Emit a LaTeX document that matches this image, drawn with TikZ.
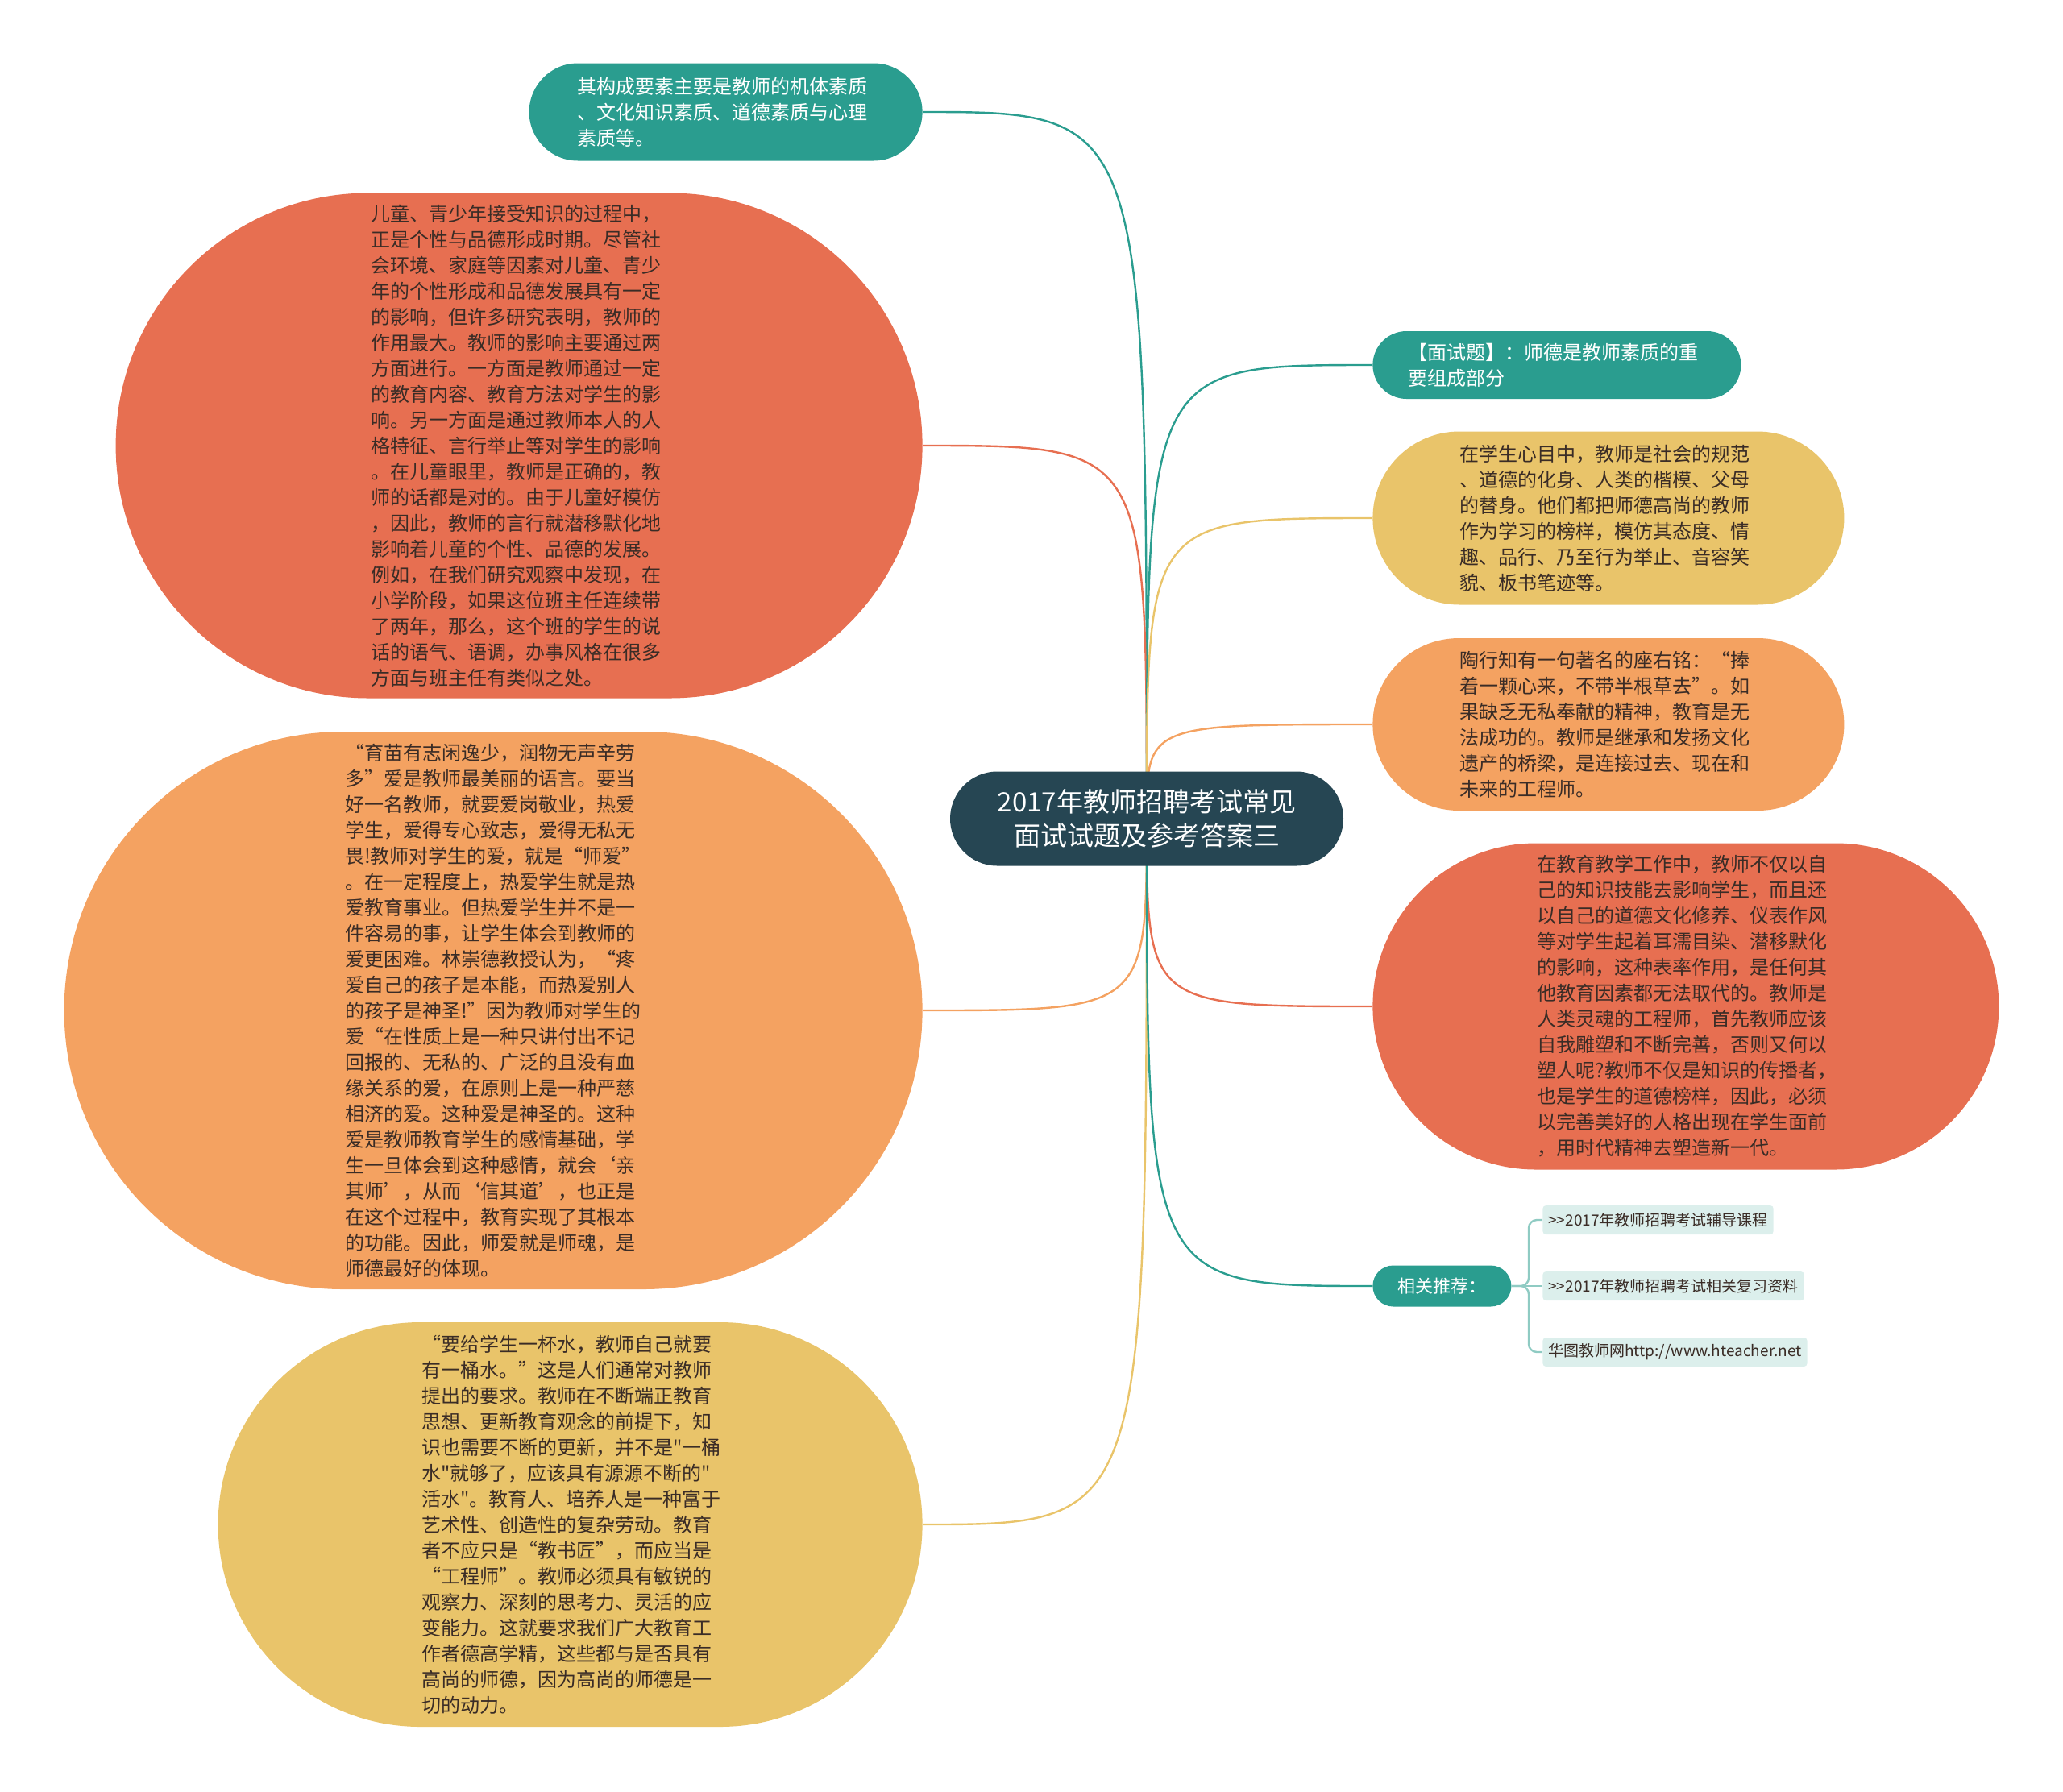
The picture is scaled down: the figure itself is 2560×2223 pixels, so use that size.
\documentclass[tikz,border=0pt]{standalone}
\usepackage{fontspec}
\newfontfamily\cjk{Noto Sans CJK SC}
\usetikzlibrary{backgrounds}

\definecolor{cdark}{HTML}{264653}
\definecolor{cteal}{HTML}{2A9D8F}
\definecolor{cyellow}{HTML}{E9C46A}
\definecolor{corange}{HTML}{F4A261}
\definecolor{cred}{HTML}{E76F51}
\definecolor{ctext}{HTML}{3A2C26}
\definecolor{clinkbg}{HTML}{DCEFEC}
\definecolor{clinkln}{HTML}{8FCBC3}

\begin{document}
\begin{tikzpicture}[x=0.5pt, y=-0.5pt,
    pill/.style 2 args={rectangle, minimum width=#1, minimum height=#2, rounded corners=#2/2},
    topic/.style={fill=#1, text=ctext, text width=184pt, align=left,
        inner xsep=2pt, inner ysep=7pt, font=\cjk\fontsize{12}{16}\selectfont},
    root/.style={fill=cdark, text=white, align=center,
        inner xsep=1pt, font=\cjk\fontsize{16.5}{21}\selectfont},
    tag/.style={fill=cteal, text=white, inner xsep=3pt, font=\cjk\fontsize{11}{14}\selectfont},
    weblink/.style={rectangle, rounded corners=2pt, fill=clinkbg, text=ctext, minimum height=18pt,
        inner xsep=3.5pt, font=\cjk\fontsize{9.5}{12}\selectfont},
    twig/.style={line width=1.2pt, draw=#1}
]
    \useasboundingbox (0,0) rectangle (2560,2223);

    % Central topic
    \node[root, pill={244pt}{58.5pt}] (root) at (1423,1016) {2017年教师招聘考试常见\\面试试题及参考答案三};

    % Left branches
    \node[topic=cteal, text=white, pill={244pt}{60.5pt}, anchor=east] (make) at (1145,139) {其构成要素主要是教师的机体素质\\、文化知识素质、道德素质与心理\\素质等。};
    \node[topic=cred, pill={500.5pt}{313.5pt}, anchor=east] (child) at (1145,553) {儿童、青少年接受知识的过程中，\\正是个性与品德形成时期。尽管社\\会环境、家庭等因素对儿童、青少\\年的个性形成和品德发展具有一定\\的影响，但许多研究表明，教师的\\作用最大。教师的影响主要通过两\\方面进行。一方面是教师通过一定\\的教育内容、教育方法对学生的影\\响。另一方面是通过教师本人的人\\格特征、言行举止等对学生的影响\\。在儿童眼里，教师是正确的，教\\师的话都是对的。由于儿童好模仿\\，因此，教师的言行就潜移默化地\\影响着儿童的个性、品德的发展。\\例如，在我们研究观察中发现，在\\小学阶段，如果这位班主任连续带\\了两年，那么，这个班的学生的说\\话的语气、语调，办事风格在很多\\方面与班主任有类似之处。};
    \node[topic=corange, pill={532.5pt}{346pt}, anchor=east] (love) at (1145,1254) {“育苗有志闲逸少，润物无声辛劳\\多”爱是教师最美丽的语言。要当\\好一名教师，就要爱岗敬业，热爱\\学生，爱得专心致志，爱得无私无\\畏!教师对学生的爱，就是“师爱”\\。在一定程度上，热爱学生就是热\\爱教育事业。但热爱学生并不是一\\件容易的事，让学生体会到教师的\\爱更困难。林崇德教授认为，“疼\\爱自己的孩子是本能，而热爱别人\\的孩子是神圣!”因为教师对学生的\\爱“在性质上是一种只讲付出不记\\回报的、无私的、广泛的且没有血\\缘关系的爱，在原则上是一种严慈\\相济的爱。这种爱是神圣的。这种\\爱是教师教育学生的感情基础，学\\生一旦体会到这种感情，就会‘亲\\其师’，从而‘信其道’，也正是\\在这个过程中，教育实现了其根本\\的功能。因此，师爱就是师魂，是\\师德最好的体现。};
    \node[topic=cyellow, pill={437pt}{251pt}, anchor=east] (water) at (1145,1892) {“要给学生一杯水，教师自己就要\\有一桶水。”这是人们通常对教师\\提出的要求。教师在不断端正教育\\思想、更新教育观念的前提下，知\\识也需要不断的更新，并不是"一桶\\水"就够了，应该具有源源不断的"\\活水"。教育人、培养人是一种富于\\艺术性、创造性的复杂劳动。教育\\者不应只是“教书匠”，而应当是\\“工程师”。教师必须具有敏锐的\\观察力、深刻的思考力、灵活的应\\变能力。这就要求我们广大教育工\\作者德高学精，这些都与是否具有\\高尚的师德，因为高尚的师德是一\\切的动力。};

    % Right branches
    \node[topic=cteal, text=white, pill={228.5pt}{42pt}, anchor=west] (quiz) at (1703,453) {【面试题】：师德是教师素质的重\\要组成部分};
    \node[topic=cyellow, pill={292.5pt}{107.5pt}, anchor=west] (model) at (1703,643) {在学生心目中，教师是社会的规范\\、道德的化身、人类的楷模、父母\\的替身。他们都把师德高尚的教师\\作为学习的榜样，模仿其态度、情\\趣、品行、乃至行为举止、音容笑\\貌、板书笔迹等。};
    \node[topic=corange, pill={292.5pt}{107pt}, anchor=west] (tao) at (1703,899) {陶行知有一句著名的座右铭：“捧\\着一颗心来，不带半根草去”。如\\果缺乏无私奉献的精神，教育是无\\法成功的。教师是继承和发扬文化\\遗产的桥梁，是连接过去、现在和\\未来的工程师。};
    \node[topic=cred, pill={388.5pt}{202.5pt}, anchor=west] (soul) at (1703,1249) {在教育教学工作中，教师不仅以自\\己的知识技能去影响学生，而且还\\以自己的道德文化修养、仪表作风\\等对学生起着耳濡目染、潜移默化\\的影响，这种表率作用，是任何其\\他教育因素都无法取代的。教师是\\人类灵魂的工程师，首先教师应该\\自我雕塑和不断完善，否则又何以\\塑人呢?教师不仅是知识的传播者，\\也是学生的道德榜样，因此，必须\\以完善美好的人格出现在学生面前\\，用时代精神去塑造新一代。};

    % Related links
    \node[tag, pill={86pt}{25.5pt}, anchor=west] (rec) at (1703,1596) {相关推荐：};
    \node[weblink, anchor=west] (course) at (1914,1514) {>>2017年教师招聘考试辅导课程};
    \node[weblink, anchor=west] (review) at (1914,1596) {>>2017年教师招聘考试相关复习资料};
    \node[weblink, anchor=west] (site) at (1914,1678) {华图教师网http://www.hteacher.net};
    \coordinate (fork) at (1897,1596);

    % Connect
    \begin{scope}[on background layer]
        \draw[twig=cteal] (root.center) .. controls (root.center |- make.east) .. (make.east);
        \draw[twig=cred] (root.center) .. controls (root.center |- child.east) .. (child.east);
        \draw[twig=corange] (root.center) .. controls (root.center |- love.east) .. (love.east);
        \draw[twig=cyellow] (root.center) .. controls (root.center |- water.east) .. (water.east);
        \draw[twig=cteal] (root.center) .. controls (root.center |- quiz.west) .. (quiz.west);
        \draw[twig=cyellow] (root.center) .. controls (root.center |- model.west) .. (model.west);
        \draw[twig=corange] (root.center) .. controls (root.center |- tao.west) .. (tao.west);
        \draw[twig=cred] (root.center) .. controls (root.center |- soul.west) .. (soul.west);
        \draw[twig=cteal] (root.center) .. controls (root.center |- rec.west) .. (rec.west);
        \draw[twig=clinkln, rounded corners=5pt] (rec.east) -- (fork) |- (course.west);
        \draw[twig=clinkln] (rec.east) -- (review.west);
        \draw[twig=clinkln, rounded corners=5pt] (rec.east) -- (fork) |- (site.west);
    \end{scope}
\end{tikzpicture}
\end{document}
